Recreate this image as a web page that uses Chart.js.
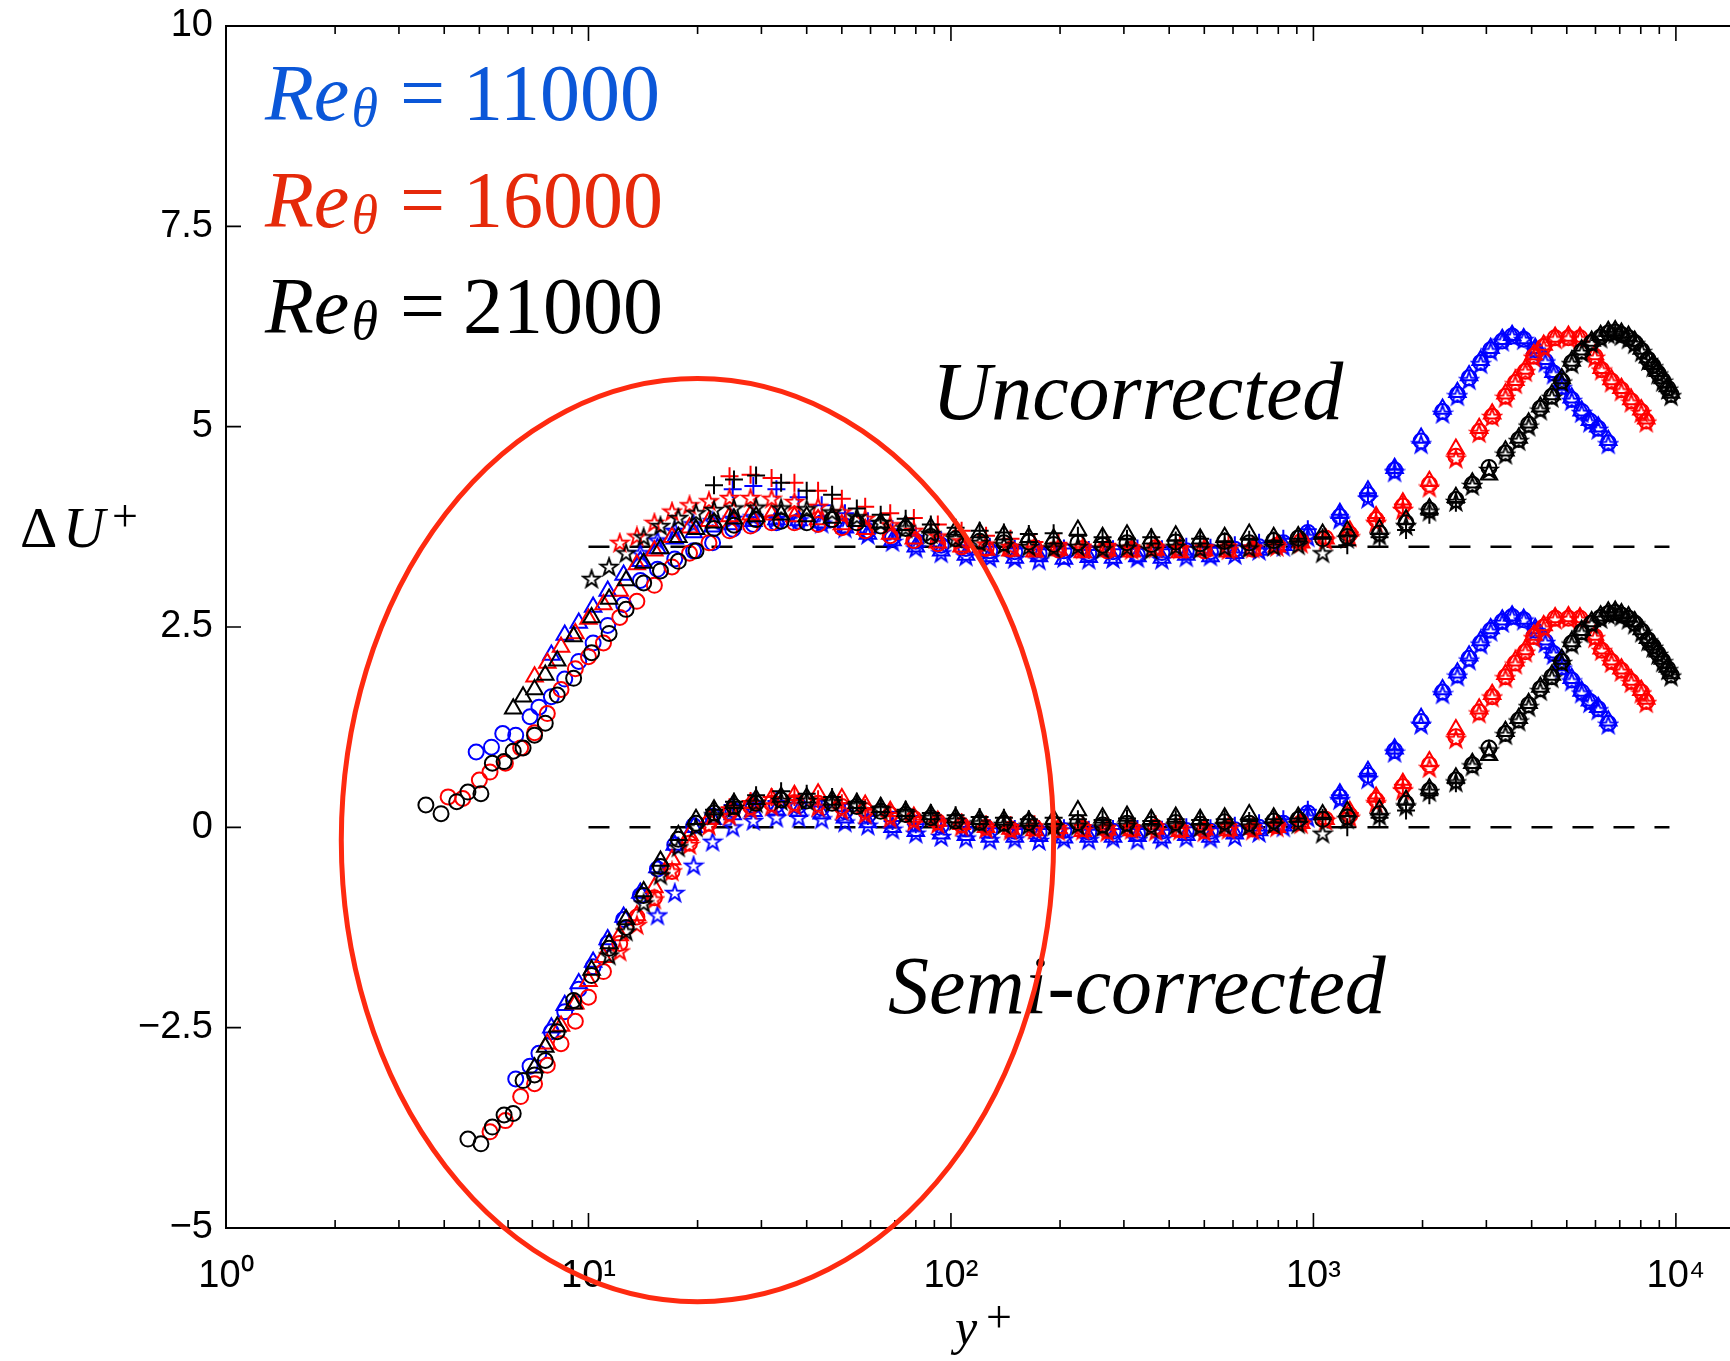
<!DOCTYPE html>
<html>
<head>
<meta charset="utf-8">
<title>Delta U+ against y+</title>
<script src="https://cdn.jsdelivr.net/npm/chart.js@4.4.1/dist/chart.umd.min.js"></script>
<style>
  html, body { margin: 0; padding: 0; background: #fff; overflow: hidden; }
  canvas { display: block; }
</style>
</head>
<body>
<canvas id="deltaU" width="1770" height="1361"></canvas>
<script>
const _ = null; // no marker of this kind at that y+

// Re_theta = 11000 (blue): shared y+ grid, then Delta U+ per marker kind
const yPlus11 = [4.9, 5.4, 5.8, 6.3, 6.9, 7.3, 7.9, 8.6, 9.4, 10.3,
    11.3, 12.5, 13.9, 15.5, 17.3, 19.5, 22, 25, 28.5, 33,
    38, 44, 51, 59, 69, 80, 94, 110, 128, 150,
    175, 205, 240, 280, 327, 382, 446, 520, 607, 708,
    826, 965, 1183, 1414, 1675, 1982, 2271, 2496, 2688, 2893,
    3083, 3319, 3533, 3803, 4093, 4363, 4596, 4844, 5160, 5496,
    5792, 6105, 6508];
const du11CircUnc = [0.94, 1.00, 1.17, 1.15, 1.38, 1.50, 1.63, 1.85, 2.07, 2.30,
    2.52, 2.78, 3.08, 3.22, 3.35, 3.45, 3.55, 3.72, 3.78, 3.80,
    3.82, 3.80, 3.76, 3.70, 3.62, 3.57, 3.52, 3.48, 3.45, 3.44,
    3.42, 3.45, 3.42, 3.44, 3.40, 3.43, 3.45, 3.44, 3.47, 3.50,
    3.55, 3.68, 3.88, 4.15, 4.46, 4.82, 5.19, 5.40, 5.61, 5.80,
    5.96, 6.07, 6.13, 6.09, 5.96, 5.82, 5.67, 5.50, 5.34, 5.19,
    5.07, 4.98, 4.80];
const du11TriUnc = [_, _, _, _, _, _, 2.15, 2.40, 2.55, 2.75,
    2.95, 3.15, 3.32, 3.48, 3.60, 3.68, 3.75, 3.78, 3.82, 3.84,
    3.83, 3.80, 3.74, 3.66, 3.58, 3.50, 3.45, 3.40, 3.38, 3.36,
    3.38, 3.35, 3.37, 3.36, 3.38, 3.36, 3.40, 3.38, 3.42, 3.46,
    3.52, 3.66, 3.92, 4.20, 4.48, 4.86, 5.22, 5.43, 5.64, 5.83,
    5.98, 6.09, 6.14, 6.10, 5.98, 5.84, 5.68, 5.52, 5.36, 5.20,
    5.08, 5.00, 4.83];
const du11StarUnc = [_, _, _, _, _, _, _, _, _, _,
    _, _, 3.42, 3.58, 3.70, 3.78, 3.82, 3.85, 3.87, 3.85,
    3.83, 3.79, 3.73, 3.65, 3.56, 3.48, 3.42, 3.38, 3.36, 3.35,
    3.33, 3.36, 3.34, 3.35, 3.36, 3.34, 3.37, 3.38, 3.40, 3.45,
    3.50, 3.62, 3.84, 4.10, 4.43, 4.78, 5.16, 5.38, 5.58, 5.78,
    5.94, 6.06, 6.12, 6.08, 5.95, 5.80, 5.65, 5.48, 5.32, 5.17,
    5.05, 4.96, 4.78];
const du11PlusUnc = [_, _, _, _, _, _, _, _, _, _,
    _, _, _, _, _, _, _, 4.22, 4.26, 4.22,
    4.12, 4.02, 3.92, 3.82, 3.72, 3.64, 3.58, 3.52, 3.50, 3.48,
    3.47, 3.48, 3.46, 3.47, 3.48, 3.47, 3.50, 3.49, 3.52, 3.55,
    3.60, 3.72, 3.90, 4.17, 4.47, _, _, _, _, _,
    _, _, _, _, _, _, _, _, _, _,
    _, _, _];
const du11CircSemi = [_, _, _, -3.14, -2.98, -2.82, -2.55, -2.30, -2.02, -1.74,
    -1.45, -1.15, -0.85, -0.52, -0.22, 0.02, 0.14, 0.22, 0.27, 0.28,
    0.27, 0.24, 0.20, 0.15, 0.10, 0.05, 0.02, -0.02, -0.04, -0.05,
    -0.06, -0.04, -0.06, -0.05, -0.07, -0.05, -0.04, -0.05, -0.03, 0.00,
    0.05, 0.18, 0.38, 0.65, 0.96, 1.32, 1.69, 1.90, 2.11, 2.30,
    2.46, 2.57, 2.63, 2.59, 2.46, 2.32, 2.17, 2.00, 1.84, 1.69,
    1.57, 1.48, 1.30];
const du11TriSemi = [_, _, _, _, _, _, -2.50, -2.22, -1.95, -1.68,
    -1.40, -1.12, -0.82, -0.50, -0.22, 0.00, 0.10, 0.16, 0.20, 0.22,
    0.20, 0.17, 0.12, 0.06, 0.00, -0.05, -0.08, -0.10, -0.12, -0.12,
    -0.11, -0.13, -0.12, -0.12, -0.11, -0.13, -0.10, -0.12, -0.08, -0.04,
    0.02, 0.16, 0.42, 0.70, 0.98, 1.36, 1.72, 1.93, 2.14, 2.33,
    2.48, 2.59, 2.64, 2.60, 2.48, 2.34, 2.18, 2.02, 1.86, 1.70,
    1.58, 1.50, 1.33];
const du11StarSemi = [_, _, _, _, _, _, _, _, _, _,
    _, _, _, -1.10, -0.82, -0.48, -0.18, 0.00, 0.08, 0.12,
    0.12, 0.10, 0.06, 0.02, -0.03, -0.08, -0.12, -0.14, -0.16, -0.15,
    -0.17, -0.15, -0.16, -0.14, -0.16, -0.15, -0.13, -0.14, -0.12, -0.07,
    0.00, 0.12, 0.34, 0.60, 0.93, 1.28, 1.66, 1.88, 2.08, 2.28,
    2.44, 2.55, 2.62, 2.58, 2.45, 2.30, 2.15, 1.98, 1.82, 1.67,
    1.55, 1.46, 1.28];
const du11PlusSemi = [_, _, _, _, _, _, _, _, _, _,
    _, _, _, _, _, _, _, 0.28, 0.32, 0.33,
    0.30, 0.26, 0.20, 0.14, 0.08, 0.04, 0.02, 0.00, -0.01, -0.02,
    -0.02, -0.01, -0.03, -0.02, -0.02, -0.03, 0.00, -0.01, 0.02, 0.05,
    0.10, 0.22, 0.40, 0.67, 0.97, _, _, _, _, _,
    _, _, _, _, _, _, _, _, _, _,
    _, _, _];

// Re_theta = 16000 (red)
const yPlus16 = [4.1, 4.5, 5.0, 5.35, 5.9, 6.5, 7.1, 7.7, 8.4, 9.2,
    10.0, 11.0, 12.2, 13.6, 15.2, 17.0, 19.0, 21.5, 24.5, 28,
    32, 37, 43, 50, 58, 68, 79, 92, 107, 125,
    146, 170, 198, 231, 270, 315, 367, 428, 500, 583,
    680, 793, 925, 1080, 1260, 1489, 1765, 2089, 2472, 2866,
    3113, 3387, 3607, 3843, 4053, 4318, 4643, 5053, 5437, 5978,
    6240, 6643, 7075, 7535, 8030, 8285];
const du16CircUnc = [0.38, 0.36, 0.59, 0.69, 0.80, 0.99, 1.18, 1.42, 1.72, 1.98,
    2.13, 2.30, 2.62, 2.82, 3.02, 3.25, 3.42, 3.55, 3.70, 3.76,
    3.80, 3.80, 3.78, 3.74, 3.70, 3.64, 3.58, 3.54, 3.50, 3.48,
    3.47, 3.49, 3.46, 3.48, 3.45, 3.47, 3.49, 3.46, 3.45, 3.48,
    3.47, 3.52, 3.57, 3.61, 3.66, 3.84, 4.01, 4.28, 4.63, 4.94,
    5.13, 5.38, 5.55, 5.69, 5.88, 6.00, 6.11, 6.11, 6.11, 5.88,
    5.71, 5.57, 5.46, 5.32, 5.19, 5.07];
const du16TriUnc = [_, _, _, _, _, _, 1.88, 2.05, 2.25, 2.42,
    2.60, 2.78, 2.95, 3.28, 3.45, 3.62, 3.74, 3.82, 3.88, 3.90,
    3.90, 3.88, 3.84, 3.78, 3.72, 3.66, 3.60, 3.55, 3.50, 3.46,
    3.45, 3.44, 3.46, 3.43, 3.45, 3.44, 3.46, 3.43, 3.45, 3.44,
    3.46, 3.50, 3.55, 3.60, 3.70, 3.88, 4.05, 4.32, 4.72, 4.98,
    5.16, 5.41, 5.58, 5.72, 5.90, 6.02, 6.12, 6.13, 6.12, 5.90,
    5.73, 5.59, 5.48, 5.34, 5.21, 5.10];
const du16StarUnc = [_, _, _, _, _, _, _, _, _, _,
    _, _, 3.55, 3.63, 3.80, 3.94, 4.02, 4.07, 4.11, 4.11,
    4.10, 4.06, 4.00, 3.93, 3.85, 3.77, 3.70, 3.63, 3.57, 3.53,
    3.50, 3.48, 3.50, 3.47, 3.49, 3.46, 3.48, 3.47, 3.49, 3.46,
    3.48, 3.50, 3.54, 3.58, 3.62, 3.80, 3.96, 4.24, 4.60, 4.92,
    5.12, 5.36, 5.53, 5.68, 5.86, 5.98, 6.09, 6.10, 6.09, 5.86,
    5.70, 5.55, 5.44, 5.30, 5.17, 5.05];
const du16PlusUnc = [_, _, _, _, _, _, _, _, _, _,
    _, _, _, _, _, _, _, _, 4.38, 4.40,
    4.36, 4.30, 4.20, 4.10, 4.00, 3.92, 3.86, 3.78, 3.70, 3.64,
    3.60, 3.56, 3.55, 3.53, 3.54, 3.52, 3.53, 3.51, 3.52, 3.53,
    3.52, 3.55, 3.58, 3.62, 3.68, 3.86, 4.03, _, _, _,
    _, _, _, _, _, _, _, _, _, _,
    _, _, _, _, _, _];
const du16CircSemi = [_, _, _, -3.80, -3.66, -3.36, -3.20, -2.97, -2.70, -2.42,
    -2.12, -1.80, -1.45, -1.12, -0.88, -0.55, -0.20, 0.05, 0.18, 0.26,
    0.30, 0.31, 0.30, 0.26, 0.21, 0.16, 0.11, 0.07, 0.03, 0.00,
    -0.02, 0.00, -0.03, -0.01, -0.04, -0.02, 0.00, -0.03, -0.04, -0.01,
    -0.02, 0.02, 0.06, 0.10, 0.15, 0.34, 0.51, 0.78, 1.13, 1.44,
    1.63, 1.88, 2.05, 2.19, 2.38, 2.50, 2.61, 2.61, 2.61, 2.38,
    2.21, 2.07, 1.96, 1.82, 1.69, 1.57];
const du16TriSemi = [_, _, _, _, _, _, _, -2.70, -2.48, -2.20,
    -1.92, -1.62, -1.35, -1.10, -0.75, -0.40, -0.10, 0.10, 0.22, 0.30,
    0.36, 0.40, 0.42, 0.36, 0.28, 0.20, 0.13, 0.08, 0.04, 0.00,
    -0.02, -0.04, -0.01, -0.05, -0.03, -0.04, -0.02, -0.05, -0.03, -0.04,
    -0.02, 0.00, 0.05, 0.10, 0.20, 0.38, 0.55, 0.82, 1.22, 1.48,
    1.66, 1.91, 2.08, 2.22, 2.40, 2.52, 2.62, 2.63, 2.62, 2.40,
    2.23, 2.09, 1.98, 1.84, 1.71, 1.60];
const du16StarSemi = [_, _, _, _, _, _, _, _, _, _,
    _, _, -1.55, -1.22, -0.90, -0.55, -0.22, 0.02, 0.14, 0.22,
    0.26, 0.27, 0.25, 0.21, 0.16, 0.11, 0.07, 0.04, 0.01, -0.02,
    -0.04, -0.03, -0.05, -0.04, -0.06, -0.03, -0.05, -0.04, -0.06, -0.03,
    -0.04, 0.00, 0.04, 0.08, 0.12, 0.30, 0.46, 0.74, 1.10, 1.42,
    1.62, 1.86, 2.03, 2.18, 2.36, 2.48, 2.59, 2.60, 2.59, 2.36,
    2.20, 2.05, 1.94, 1.80, 1.67, 1.55];
const du16PlusSemi = [_, _, _, _, _, _, _, _, _, _,
    _, _, _, _, _, _, _, _, 0.25, 0.33,
    0.38, 0.38, 0.35, 0.30, 0.24, 0.18, 0.13, 0.09, 0.06, 0.04,
    0.03, 0.04, 0.02, 0.03, 0.02, 0.03, 0.04, 0.02, 0.03, 0.04,
    0.03, 0.05, 0.08, 0.12, 0.18, 0.36, 0.53, _, _, _,
    _, _, _, _, _, _, _, _, _, _,
    _, _, _, _, _, _];

// Re_theta = 21000 (black)
const yPlus21 = [3.56, 3.92, 4.33, 4.65, 5.05, 5.43, 5.85, 6.2, 6.6, 7.1,
    7.6, 8.2, 9.1, 10.2, 11.4, 12.7, 14.2, 15.8, 17.7, 19.8,
    22.2, 25.2, 29, 34, 40, 47, 55, 64, 75, 88,
    103, 120, 140, 164, 192, 224, 262, 306, 357, 417,
    487, 569, 665, 777, 908, 1060, 1240, 1522, 1801, 2089,
    2472, 2744, 3050, 3387, 3685, 3924, 4227, 4547, 4844, 5160,
    5496, 5856, 6200, 6508, 6800, 7075, 7400, 7697, 8050, 8375,
    8650, 8920, 9200, 9500, 9700];
const du21CircUnc = [0.28, 0.17, 0.32, 0.44, 0.42, 0.80, 0.82, 0.95, 0.99, 1.15,
    1.30, 1.65, 1.86, 2.18, 2.42, 2.72, 3.05, 3.20, 3.32, 3.45,
    3.73, 3.77, 3.84, 3.82, 3.80, 3.84, 3.80, 3.76, 3.73, 3.63,
    3.60, 3.57, 3.55, 3.56, 3.53, 3.55, 3.52, 3.55, 3.53, 3.56,
    3.54, 3.57, 3.55, 3.58, 3.61, 3.60, 3.63, 3.67, 3.80, 3.96,
    4.09, 4.28, 4.49, 4.67, 4.84, 5.03, 5.23, 5.38, 5.57, 5.80,
    5.94, 6.05, 6.12, 6.17, 6.18, 6.15, 6.11, 6.05, 5.95, 5.84,
    5.76, 5.67, 5.58, 5.48, 5.40];
const du21TriUnc = [_, _, _, _, _, _, _, 1.48, 1.63, 1.72,
    1.90, 2.08, 2.38, 2.62, 2.85, 3.08, 3.30, 3.48, 3.62, 3.72,
    3.80, 3.85, 3.88, 3.90, 3.88, 3.86, 3.82, 3.80, 3.77, 3.74,
    3.71, 3.68, 3.65, 3.62, 3.60, 3.71, 3.62, 3.65, 3.60, 3.64,
    3.60, 3.62, 3.66, 3.62, 3.63, 3.66, 3.70, 3.72, 3.84, 3.98,
    4.12, 4.30, 4.40, 4.70, 4.86, 5.05, 5.25, 5.40, 5.60, 5.82,
    5.96, 6.07, 6.14, 6.19, 6.20, 6.17, 6.13, 6.07, 5.97, 5.86,
    5.78, 5.69, 5.60, 5.50, 5.42];
const du21StarUnc = [_, _, _, _, _, _, _, _, _, _,
    _, _, _, 3.10, 3.25, 3.42, 3.62, 3.76, 3.86, 3.92,
    3.96, 3.98, 3.99, 3.98, 3.97, 3.93, 3.87, 3.80, 3.73, 3.66,
    3.60, 3.55, 3.52, 3.50, 3.48, 3.50, 3.47, 3.49, 3.46, 3.50,
    3.47, 3.49, 3.48, 3.50, 3.52, 3.42, 3.60, 3.64, 3.76, 3.94,
    4.06, 4.26, 4.46, 4.65, 4.82, 5.00, 5.20, 5.36, 5.55, 5.78,
    5.92, 6.03, 6.10, 6.15, 6.16, 6.13, 6.09, 6.03, 5.93, 5.82,
    5.74, 5.65, 5.56, 5.46, 5.38];
const du21PlusUnc = [_, _, _, _, _, _, _, _, _, _,
    _, _, _, _, _, _, _, _, _, _,
    4.27, 4.34, 4.39, 4.30, 4.20, 4.15, 3.98, 3.90, 3.85, 3.78,
    3.74, 3.70, 3.68, 3.66, 3.67, 3.64, 3.62, 3.60, 3.62, 3.58,
    3.60, 3.57, 3.59, 3.58, 3.60, 3.62, 3.52, 3.62, 3.71, 3.90,
    4.05, _, _, _, _, _, _, _, _, _,
    _, _, _, _, _, _, _, _, _, _,
    _, _, _, _, _];
const du21CircSemi = [_, _, _, -3.89, -3.95, -3.74, -3.59, -3.57, -3.16, -3.09,
    -2.91, -2.55, -2.16, -1.85, -1.51, -1.25, -0.85, -0.49, -0.15, 0.05,
    0.18, 0.26, 0.30, 0.34, 0.33, 0.30, 0.26, 0.20, 0.16, 0.12,
    0.08, 0.06, 0.05, 0.06, 0.04, 0.06, 0.03, 0.05, 0.04, 0.06,
    0.04, 0.07, 0.05, 0.08, 0.10, 0.10, 0.13, 0.17, 0.30, 0.46,
    0.59, 0.78, 0.99, 1.17, 1.34, 1.53, 1.73, 1.88, 2.07, 2.30,
    2.44, 2.55, 2.62, 2.67, 2.68, 2.65, 2.61, 2.55, 2.45, 2.34,
    2.26, 2.17, 2.08, 1.98, 1.90];
const du21TriSemi = [_, _, _, _, _, _, _, _, _, -3.00,
    -2.74, -2.49, -2.20, -1.78, -1.45, -1.15, -0.80, -0.42, -0.10, 0.10,
    0.22, 0.30, 0.35, 0.38, 0.37, 0.34, 0.30, 0.25, 0.20, 0.16,
    0.12, 0.10, 0.09, 0.08, 0.10, 0.21, 0.12, 0.14, 0.10, 0.13,
    0.10, 0.12, 0.16, 0.12, 0.13, 0.16, 0.20, 0.22, 0.34, 0.48,
    0.62, 0.80, 0.90, 1.20, 1.36, 1.55, 1.75, 1.90, 2.10, 2.32,
    2.46, 2.57, 2.64, 2.69, 2.70, 2.67, 2.63, 2.57, 2.47, 2.36,
    2.28, 2.19, 2.10, 2.00, 1.92];
const du21StarSemi = [_, _, _, _, _, _, _, _, _, _,
    _, _, _, _, -1.60, -1.30, -0.95, -0.60, -0.25, 0.00,
    0.15, 0.24, 0.30, 0.33, 0.33, 0.31, 0.27, 0.22, 0.17, 0.12,
    0.08, 0.05, 0.03, 0.02, 0.01, 0.02, 0.00, 0.02, -0.01, 0.02,
    0.00, 0.02, 0.01, 0.03, 0.04, -0.08, 0.10, 0.14, 0.26, 0.44,
    0.56, 0.76, 0.96, 1.15, 1.32, 1.50, 1.70, 1.86, 2.05, 2.28,
    2.42, 2.53, 2.60, 2.65, 2.66, 2.63, 2.59, 2.53, 2.43, 2.32,
    2.24, 2.15, 2.06, 1.96, 1.88];
const du21PlusSemi = [_, _, _, _, _, _, _, _, _, _,
    _, _, _, _, _, _, _, _, _, _,
    0.22, 0.32, 0.40, 0.45, 0.42, 0.38, 0.32, 0.26, 0.22, 0.18,
    0.15, 0.13, 0.12, 0.10, 0.12, 0.10, 0.09, 0.11, 0.08, 0.10,
    0.09, 0.10, 0.08, 0.10, 0.11, 0.12, 0.00, 0.12, 0.21, 0.40,
    0.55, _, _, _, _, _, _, _, _, _,
    _, _, _, _, _, _, _, _, _, _,
    _, _, _, _, _];

const reValues = ['11000', '16000', '21000'];
const reTextColors = ['#0b57d8', '#e5290a', '#000000'];
const markColors = ['#0000ff', '#ff0000', '#000000'];
const dashLevels = [3.5, 0];
const dashSpan = [10, 9600];
const yTickValues = [-5, -2.5, 0, 2.5, 5, 7.5, 10];
const xTickValues = [1, 10, 100, 1000, 10000];
const superDigits = ['\u2070', '\u00b9', '\u00b2', '\u00b3', '\u2074'];
const circled = { xFrom: 2.08, xTo: 192, yFrom: -5.92, yTo: 5.6 };

// pentagram outline, used as the star marker
function starMark(color) {
    const c = document.createElement('canvas');
    c.width = 22;
    c.height = 22;
    const g = c.getContext('2d');
    g.strokeStyle = color;
    g.lineWidth = 1.9;
    g.beginPath();
    for (let i = 0; i < 10; i++) {
        const r = i % 2 ? 3.5 : 9;
        const a = -Math.PI / 2 + i * Math.PI / 5;
        g.lineTo(11 + r * Math.cos(a), 11.5 + r * Math.sin(a));
    }
    g.closePath();
    g.stroke();
    return c;
}

const starMarks = {};
markColors.forEach(c => { starMarks[c] = starMark(c); });

function markerSet(yPlus, values, color, kind) {
    const looks = {
        circle: { pointStyle: 'circle', pointRadius: 7.5 },
        triangle: { pointStyle: 'triangle', pointRadius: 9.5 },
        star: { pointStyle: starMarks[color], pointRadius: 9 },
        plus: { pointStyle: 'cross', pointRadius: 9 }
    };
    return {
        data: yPlus.map((x, i) => ({ x, y: values[i] })).filter(p => p.y !== null),
        pointBorderColor: color,
        pointBackgroundColor: 'rgba(0,0,0,0)',
        pointBorderWidth: 2,
        ...looks[kind]
    };
}

const kinds = ['circle', 'triangle', 'star', 'plus'];
const datasets = [];
// black first so it ends up on top
[
    [yPlus21, [du21CircUnc, du21TriUnc, du21StarUnc, du21PlusUnc, du21CircSemi, du21TriSemi, du21StarSemi, du21PlusSemi], markColors[2]],
    [yPlus16, [du16CircUnc, du16TriUnc, du16StarUnc, du16PlusUnc, du16CircSemi, du16TriSemi, du16StarSemi, du16PlusSemi], markColors[1]],
    [yPlus11, [du11CircUnc, du11TriUnc, du11StarUnc, du11PlusUnc, du11CircSemi, du11TriSemi, du11StarSemi, du11PlusSemi], markColors[0]]
].forEach(([yPlus, series, color]) => {
    series.forEach((vals, k) => datasets.push(markerSet(yPlus, vals, color, kinds[k % 4])));
});
dashLevels.forEach(level => {
    datasets.push({
        data: dashSpan.map(x => ({ x, y: level })),
        showLine: true,
        borderColor: '#000',
        borderWidth: 2.5,
        borderDash: [21, 20],
        pointRadius: 0
    });
});

// no label overhang: the plot box is placed by the layout padding alone
function noOverhang(scale) {
    scale.paddingTop = 0;
    scale.paddingBottom = 0;
    scale.paddingLeft = 0;
    scale.paddingRight = 0;
}

const figureExtras = {
    id: 'figureExtras',
    afterDraw(chart) {
        const { ctx, chartArea: a, scales: { x, y } } = chart;
        ctx.save();

        // box with inward ticks
        ctx.strokeStyle = '#000';
        ctx.lineWidth = 2;
        ctx.strokeRect(a.left, a.top, a.right - a.left, a.bottom - a.top);
        ctx.lineWidth = 1.6;
        ctx.beginPath();
        xTickValues.forEach(v => {
            const px = x.getPixelForValue(v);
            ctx.moveTo(px, a.bottom); ctx.lineTo(px, a.bottom - 15);
            ctx.moveTo(px, a.top); ctx.lineTo(px, a.top + 15);
        });
        xTickValues.forEach(d => {
            [2, 3, 4, 5, 6, 7, 8, 9].forEach(m => {
                if (d * m > x.max) return;
                const px = x.getPixelForValue(d * m);
                ctx.moveTo(px, a.bottom); ctx.lineTo(px, a.bottom - 8);
                ctx.moveTo(px, a.top); ctx.lineTo(px, a.top + 8);
            });
        });
        yTickValues.forEach(v => {
            const py = y.getPixelForValue(v);
            ctx.moveTo(a.left, py); ctx.lineTo(a.left + 15, py);
            ctx.moveTo(a.right, py); ctx.lineTo(a.right - 15, py);
        });
        ctx.stroke();

        // Re_theta key
        ctx.textAlign = 'left';
        ctx.textBaseline = 'alphabetic';
        reValues.forEach((val, i) => {
            const bx = a.left + 39;
            const by = a.top + 94 + i * 106.5;
            ctx.fillStyle = reTextColors[i];
            ctx.font = 'italic 80px "Liberation Serif"';
            ctx.fillText('Re', bx, by);
            const w = ctx.measureText('Re').width;
            ctx.font = 'italic 54px "Liberation Serif"';
            ctx.fillText('\u03b8', bx + w + 2, by + 6);
            ctx.font = '80px "Liberation Serif"';
            ctx.fillText('=', bx + 135, by);
            ctx.fillText(val, bx + 198, by);
        });

        ctx.fillStyle = '#000';
        ctx.font = 'italic 82px "Liberation Serif"';
        ctx.fillText('Uncorrected', a.left + 706, a.top + 393);
        ctx.fillText('Semi-corrected', a.left + 662, a.top + 987);

        // axis titles
        ctx.font = '58px "Liberation Serif"';
        ctx.fillText('\u0394', 20, 547);
        ctx.font = 'italic 58px "Liberation Serif"';
        ctx.fillText('U', 63, 547);
        ctx.font = '46px "Liberation Serif"';
        ctx.fillText('+', 112, 531);
        ctx.font = 'italic 50px "Liberation Serif"';
        ctx.fillText('y', 955, 1344);
        ctx.font = '46px "Liberation Serif"';
        ctx.fillText('+', 986, 1332);

        // red ellipse round the near-wall region
        const l = x.getPixelForValue(circled.xFrom);
        const r = x.getPixelForValue(circled.xTo);
        const t = y.getPixelForValue(circled.yTo);
        const b = y.getPixelForValue(circled.yFrom);
        ctx.strokeStyle = '#fe2a10';
        ctx.lineWidth = 5;
        ctx.beginPath();
        ctx.ellipse((l + r) / 2, (t + b) / 2, (r - l) / 2, (b - t) / 2, 0, 0, 2 * Math.PI);
        ctx.stroke();

        ctx.restore();
    }
};

Chart.defaults.font.family = '"Liberation Sans", Arial, sans-serif';
Chart.defaults.color = '#000';

new Chart(document.getElementById('deltaU'), {
    type: 'scatter',
    data: { datasets },
    options: {
        responsive: false,
        animation: false,
        events: [],
        layout: { padding: { top: 26, right: 2, left: 0, bottom: 0 } },
        scales: {
            x: {
                type: 'logarithmic',
                min: 1,
                max: 16900,
                grid: { display: false, drawTicks: false },
                border: { display: false },
                afterBuildTicks: scale => { scale.ticks = xTickValues.map(v => ({ value: v })); },
                afterFit: scale => { scale.height = 133; noOverhang(scale); },
                ticks: {
                    autoSkip: false,
                    maxRotation: 0,
                    padding: 26,
                    font: { size: 38 },
                    callback: v => '10' + superDigits[Math.round(Math.log10(v))]
                }
            },
            y: {
                min: -5,
                max: 10,
                grid: { display: false, drawTicks: false },
                border: { display: false },
                afterBuildTicks: scale => { scale.ticks = yTickValues.map(v => ({ value: v })); },
                afterFit: scale => { scale.width = 226; noOverhang(scale); },
                ticks: {
                    padding: 13,
                    font: { size: 38 },
                    callback: v => String(v).replace('-', '\u2212')
                }
            }
        },
        plugins: {
            legend: { display: false },
            tooltip: { enabled: false }
        }
    },
    plugins: [figureExtras]
});
</script>
</body>
</html>
